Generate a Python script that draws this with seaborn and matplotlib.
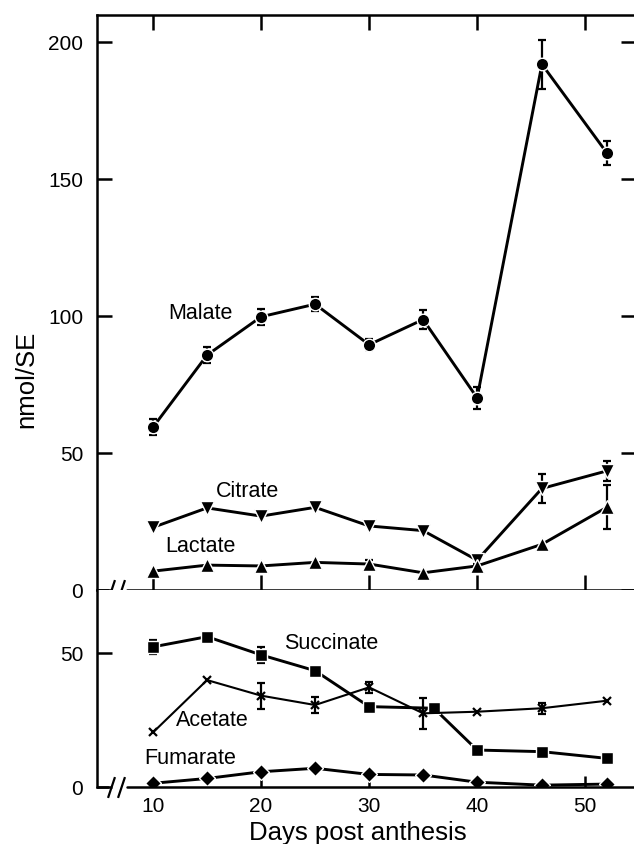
import numpy as np
import pandas as pd
import matplotlib
matplotlib.use("Agg")
import matplotlib.pyplot as plt
import seaborn as sns

# sampling days (days post anthesis)
days = [10, 15, 20, 25, 30, 35, 40, 46, 52]
succ_days = [10, 15, 20, 25, 30, 36, 40, 46, 52]

# upper panel (nmol/SE)
malate = [59.5, 85.8, 99.8, 104.4, 89.6, 98.8, 70.2, 192.0, 159.7]
malate_se = [3, 3, 3, 2.5, 2, 3.6, 4, 9, 4.4]
citrate = [22.9, 30.0, 27.0, 30.2, 23.4, 21.7, 10.9, 37.1, 43.5]
citrate_se = [0, 0, 0, 0, 0, 0, 1.5, 5.2, 3.6]
lactate = [6.9, 9.1, 8.8, 10.1, 9.5, 6.3, 8.8, 16.7, 30.2]
lactate_se = [0, 0, 0, 0, 1.5, 0, 0, 0, 8]

# lower panel (nmol/SE)
succinate = [52.3, 56.1, 49.3, 43.4, 30.0, 29.4, 13.8, 13.2, 10.7]
succinate_se = [2.5, 0, 3, 0, 0, 0, 0, 0, 0]
acetate = [20.4, 39.9, 34.1, 30.6, 37.2, 27.5, 28.1, 29.4, 32.2]
acetate_se = [0, 0, 4.8, 3, 2, 5.7, 0, 2, 0]
fumarate = [1.4, 3.2, 5.7, 7.0, 4.7, 4.5, 1.8, 0.7, 1.1]

x_ticks = [10, 20, 30, 40, 50]
top_yticks = [0, 50, 100, 150, 200]
bottom_yticks = [0, 50]


def draw_series(ax, x, y, err, marker, ms, lw=2.1, edge="white", mew=1.0):
    x = np.asarray(x, dtype=float)
    y = np.asarray(y, dtype=float)
    if err is not None:
        err = np.asarray(err, dtype=float)
        m = err > 0
        if m.any():
            ax.errorbar(x[m], y[m], yerr=err[m], fmt="none", ecolor="black",
                        elinewidth=1.6, capsize=3.2, capthick=1.6, zorder=2)
    df = pd.DataFrame({"day": x, "val": y})
    sns.lineplot(data=df, x="day", y="val", ax=ax, color="black", linewidth=lw,
                 marker=marker, markersize=ms, markeredgecolor=edge,
                 markeredgewidth=mew, markerfacecolor="black", zorder=3,
                 errorbar=None, sort=False)


def broken_bottom(ax, xlim):
    # x axis line at y=0 with the "//" break next to the y axis
    ax.plot([xlim[0], 5.85], [0, 0], color="black", lw=1.8, clip_on=False, zorder=4)
    ax.plot([7.55, xlim[1]], [0, 0], color="black", lw=1.8, clip_on=False, zorder=4)
    ax.plot([6.15, 7.05], [0, 0], linestyle="none", marker=[(-1, -3), (1, 3)],
            markersize=15, markeredgewidth=1.6, color="black", clip_on=False, zorder=4)


sns.set_style("ticks")
plt.rcParams["font.family"] = ["Liberation Sans", "DejaVu Sans"]
plt.rcParams.update({
    "text.color": "black",
    "axes.labelcolor": "black",
    "axes.edgecolor": "black",
    "xtick.color": "black",
    "ytick.color": "black",
})

fig = plt.figure(figsize=(6.34, 8.44), dpi=100)
ax_top = fig.add_axes([0.153, 0.3009, 0.85, 0.6813])
ax_bot = fig.add_axes([0.153, 0.0675, 0.85, 0.2334])

xlim = (4.81, 54.7)

draw_series(ax_top, days, malate, malate_se, "o", 9)
draw_series(ax_top, days, citrate, citrate_se, "v", 10)
draw_series(ax_top, days, lactate, lactate_se, "^", 10)

draw_series(ax_bot, succ_days, succinate, succinate_se, "s", 9)
draw_series(ax_bot, days, acetate, acetate_se, "x", 5.5, lw=1.5, edge="black", mew=1.6)
draw_series(ax_bot, days, fumarate, None, "D", 8)

for ax in (ax_top, ax_bot):
    ax.set_xlim(*xlim)
    ax.set_xlabel("")
    ax.set_ylabel("")
    ax.set_xticks(x_ticks)
    ax.spines["bottom"].set_visible(False)
    ax.spines["left"].set_linewidth(1.8)
    ax.spines["top"].set_linewidth(1.8)
    ax.spines["right"].set_linewidth(1.8)
    ax.tick_params(direction="in", length=11, width=1.8, labelsize=15, pad=10)
    broken_bottom(ax, xlim)

ax_top.set_ylim(0, 210)
ax_top.set_yticks(top_yticks)
ax_top.tick_params(axis="x", top=True, bottom=True, labelbottom=False)
ax_top.tick_params(axis="y", right=True, left=True)

ax_bot.set_ylim(0, 73.5)
ax_bot.set_yticks(bottom_yticks)
ax_bot.spines["top"].set_visible(False)
ax_bot.spines["right"].set_visible(False)
ax_bot.tick_params(axis="x", top=False, bottom=True, length=8, pad=7)

ax_top.text(14.35, 101, "Malate", fontsize=15.5, ha="center", va="center")
ax_top.text(18.7, 35.9, "Citrate", fontsize=15.5, ha="center", va="center")
ax_top.text(14.35, 15.8, "Lactate", fontsize=15.5, ha="center", va="center")
ax_bot.text(26.5, 53.7, "Succinate", fontsize=15.5, ha="center", va="center")
ax_bot.text(15.45, 25.0, "Acetate", fontsize=15.5, ha="center", va="center")
ax_bot.text(13.4, 10.8, "Fumarate", fontsize=15.5, ha="center", va="center")

fig.text(26 / 634, 1 - 379 / 844, "nmol/SE", rotation=90, fontsize=18.5,
         ha="center", va="center")
fig.text(358 / 634, 1 - 833 / 844, "Days post anthesis", fontsize=18.5,
         ha="center", va="center")

fig.savefig("out.png", dpi=100)
